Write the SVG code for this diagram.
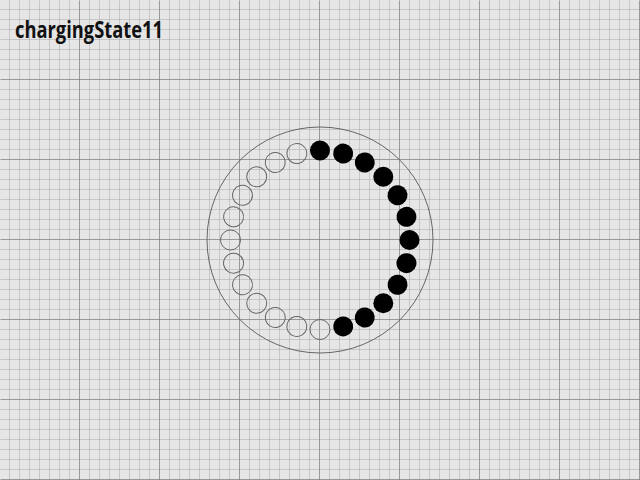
<svg xmlns="http://www.w3.org/2000/svg" width="640" height="480" viewBox="0 0 640 480">
<defs>
<pattern id="minor" width="10" height="10" patternUnits="userSpaceOnUse">
<path d="M10 0V10M0 10H10" fill="none" stroke="#a8a8a8" stroke-width="1"/>
</pattern>
<pattern id="major" width="80" height="80" patternUnits="userSpaceOnUse">
<path d="M80 0V80M0 80H80" fill="none" stroke="#6a6a6a" stroke-width="1"/>
</pattern>
<style>
.on{fill:#000}
.off{fill:none;stroke:#666;stroke-width:1}
.title{font-family:"Open Sans","DejaVu Sans",sans-serif;font-weight:bold;font-size:23.5px;fill:#111}
</style>
</defs>
<rect width="640" height="480" fill="#e6e6e6"/>
<rect x="0.5" y="0.5" width="640" height="480" fill="url(#minor)"/>
<rect x="0.5" y="0.5" width="640" height="480" fill="url(#major)"/>
<text class="title" x="15" y="38" textLength="148" lengthAdjust="spacingAndGlyphs">chargingState11</text>
<g id="ring">
<circle cx="320" cy="240" r="113" fill="none" stroke="#666" stroke-width="1"/>
</g>
<g id="dots" transform="translate(320 240)">
<circle class="on" r="10" transform="rotate(0) translate(0 -89.5)"/>
<circle class="on" r="10" transform="rotate(15) translate(0 -89.5)"/>
<circle class="on" r="10" transform="rotate(30) translate(0 -89.5)"/>
<circle class="on" r="10" transform="rotate(45) translate(0 -89.5)"/>
<circle class="on" r="10" transform="rotate(60) translate(0 -89.5)"/>
<circle class="on" r="10" transform="rotate(75) translate(0 -89.5)"/>
<circle class="on" r="10" transform="rotate(90) translate(0 -89.5)"/>
<circle class="on" r="10" transform="rotate(105) translate(0 -89.5)"/>
<circle class="on" r="10" transform="rotate(120) translate(0 -89.5)"/>
<circle class="on" r="10" transform="rotate(135) translate(0 -89.5)"/>
<circle class="on" r="10" transform="rotate(150) translate(0 -89.5)"/>
<circle class="on" r="10" transform="rotate(165) translate(0 -89.5)"/>
<circle class="off" r="10" transform="rotate(180) translate(0 -89.5)"/>
<circle class="off" r="10" transform="rotate(195) translate(0 -89.5)"/>
<circle class="off" r="10" transform="rotate(210) translate(0 -89.5)"/>
<circle class="off" r="10" transform="rotate(225) translate(0 -89.5)"/>
<circle class="off" r="10" transform="rotate(240) translate(0 -89.5)"/>
<circle class="off" r="10" transform="rotate(255) translate(0 -89.5)"/>
<circle class="off" r="10" transform="rotate(270) translate(0 -89.5)"/>
<circle class="off" r="10" transform="rotate(285) translate(0 -89.5)"/>
<circle class="off" r="10" transform="rotate(300) translate(0 -89.5)"/>
<circle class="off" r="10" transform="rotate(315) translate(0 -89.5)"/>
<circle class="off" r="10" transform="rotate(330) translate(0 -89.5)"/>
<circle class="off" r="10" transform="rotate(345) translate(0 -89.5)"/>
</g>
</svg>
